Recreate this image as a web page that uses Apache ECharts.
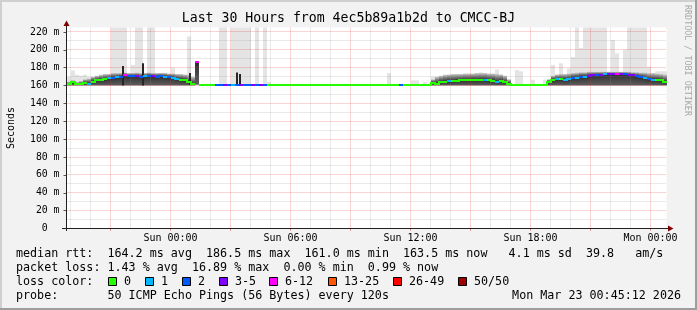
<!DOCTYPE html>
<html><head><meta charset="utf-8">
<script src="https://cdn.jsdelivr.net/npm/echarts@6/dist/echarts.min.js"></script>
<style>html,body{margin:0;padding:0;background:#f2f2f2;overflow:hidden}#c{width:697px;height:310px}</style>
</head><body><div id="c"></div>
<script>
// ---- time base: hours relative to Sun 00:00 ----
const startHour = -5.2;
const endHour = 24.8;
const stepHours = 0.2;

// ---- median RTT per step (ms) ----
const median = [
162,163.5,161.5,161.5,163,162,164.5,166,166.5,167,
168,169,169.5,170,171.5,170.5,171,170.5,170,170.5,
171,170.5,170,170.5,170,169.5,169,167.5,166.5,166,
164,161.5,186.5,161,161,161,161,161,161,161,
161,161,161,161,161,161,161,161,161,161,
161,161,161,161,161,161,161,161,161,161,
161,161,161,161,161,161,161,161,161,161,
161,161,161,161,161,161,161,161,161,161,
161,161,161,161,161,161,161,161,161,161,
161,163,162,164,164.5,165,165,165.5,166,166,
166,166.5,166,166.5,166.5,166,165.5,164,165,163.5,
162,161,161,161,161,161,161,161,161,161,
164,166.5,167,167,166.5,167,169,169,170,170,
171,171.5,172,172,172.5,172.5,172.5,172.5,172.5,172.5,
172,171.5,170.5,169.5,168.5,167,166.5,166.5,166,164
];
// ---- loss class per step (index into lossLabels) ----
const loss = [
0,0,0,0,0,1,0,0,0,0,
1,2,1,2,4,2,2,3,2,1,
2,3,2,2,1,2,1,1,0,0,
0,0,4,0,0,0,0,2,2,3,
2,1,2,3,2,2,3,2,3,2,
0,0,0,0,0,0,0,0,0,0,
0,0,0,0,0,0,0,0,0,0,
0,0,0,0,0,0,0,0,0,0,
0,0,0,2,0,0,0,0,0,0,
0,0,0,0,0,1,0,0,0,0,
0,0,0,0,1,0,0,1,0,0,
0,0,0,0,0,0,0,0,0,0,
0,0,1,0,1,1,2,1,2,1,
3,3,2,3,1,3,3,4,3,2,
3,3,2,2,1,2,1,0,0,0
];
// ---- dense smoke low / high (ms) ----
const smokeLo = [
160,160,160,160,160,160,160,160,160,160,
160,160,160,160,160,160,160,160,160,160,
160,160,160,160,160,160,160,160,160,160,
160,160,161,null,null,null,null,null,null,null,
null,null,null,null,null,null,null,null,null,null,
null,null,null,null,null,null,null,null,null,null,
null,null,null,null,null,null,null,null,null,null,
null,null,null,null,null,null,null,null,null,null,
null,null,null,null,null,null,null,null,null,null,
null,160,160,160,160,160,160,160,160,160,
160,160,160,160,160,160,160,160,160,160,
160,null,null,null,null,null,null,null,null,null,
160,160,160,160,160,160,160,160,160,160,
160,160,160,160,160,160,160,160,160,160,
160,160,160,160,160,160,160,160,160,160
];
const smokeHi = [
164,166,164,165,167,168,170,171,172,173,
173,174,174,174,174.5,174,174,174.5,174,174,
174.5,174,174,174,174,173.5,173.5,173,173,172.5,
172,170,187,null,null,null,null,null,null,null,
null,null,null,null,null,null,null,null,null,null,
null,null,null,null,null,null,null,null,null,null,
null,null,null,null,null,null,null,null,null,null,
null,null,null,null,null,null,null,null,null,null,
null,null,null,null,null,null,null,null,null,null,
null,167,170,171,172,172.5,173,173,173,173.5,
173.5,173.5,174,174,174,173.5,173.5,173,172.5,171,
167,null,null,null,null,null,null,null,null,null,
167,171,172.5,173,173,173.5,174,174.5,175,175,
175.5,175.5,175.5,175.5,175.5,175.5,175.5,175.5,175.5,175.5,
175.5,175,175,174.5,174.5,174,174,173.5,173,172.5
];
// ---- outer (light) smoke maximum per step (ms) ----
const spikeMax = [
170,177,172,171,172,170,null,null,null,null,
null,230,230,230,230,null,183,230,230,null,
230,230,null,null,null,null,180,null,null,null,
215,null,null,null,null,null,null,null,230,230,
null,230,230,230,230,230,null,230,null,230,
164,null,null,null,null,null,null,null,null,null,
null,null,null,null,null,null,null,null,null,null,
null,null,null,null,null,null,null,null,null,null,
174,null,null,null,null,null,166,166,null,164,
null,170,null,null,null,null,null,null,null,null,
null,null,null,175,null,null,null,178,null,null,
null,null,177.5,176,null,null,166.5,null,null,166.5,
null,183,null,185,null,179,192,230,202,230,
230,230,230,230,230,null,211,196,null,200,
230,230,230,230,230,181,null,176,176,176
];
// ---- isolated dark outliers ----
const peakTime = [-2.4, -1.4, 0.99, 3.3, 3.47];
const peakLo = [160, 160, 161, 161, 161];
const peakHi = [182, 185, 174, 174.5, 173];

const lossLabels = ['0','1','2','3-5','6-12','13-25','26-49','50/50'];
const lossColors = ['#26ff00','#00b8ff','#0059ff','#7e00ff','#ff00ff','#ff5500','#ff0000','#a10000'];

const xTickValues = [0, 6, 12, 18, 24];
const xTickLabels = ['Sun 00:00','Sun 06:00','Sun 12:00','Sun 18:00','Mon 00:00'];
const yTickValues = [0,20,40,60,80,100,120,140,160,180,200,220];
const majorHours = [-3,0,3,6,9,12,15,18,21,24];
const minorHours = [-5,-4,-2,-1,1,2,4,5,7,8,10,11,13,14,16,17,19,20,22,23];
const minorMs = [10,30,50,70,90,110,130,150,170,190,210];

const FONT = '"DejaVu Sans Mono", "Liberation Mono", monospace';

const stepData = median.map((v, i) => [startHour + i * stepHours, v, i]);

function rect(x, y, w, h, fill) {
  return {type: 'rect', shape: {x: x, y: y, width: w, height: h}, style: {fill: fill}};
}
function colX(api, t) { return Math.round(api.coord([t, 0])[0]); }

function renderSpike(params, api) {
  const i = api.value(2);
  const s = spikeMax[i];
  if (s == null) return null;
  const t = api.value(0);
  const x0 = colX(api, t), x1 = colX(api, t + stepHours);
  const yTop = api.coord([t, s])[1];
  const yBot = api.coord([t, median[i]])[1];
  return rect(x0, yTop, x1 - x0, yBot - yTop, '#e4e4e4');
}
function renderSmoke(params, api) {
  const i = api.value(2);
  const lo = smokeLo[i], hi = smokeHi[i];
  if (lo == null || hi == null) return null;
  const t = api.value(0);
  const x0 = colX(api, t), x1 = colX(api, t + stepHours);
  const yTop = api.coord([t, hi])[1];
  const yBot = api.coord([t, lo])[1];
  const yMed = api.coord([t, median[i]])[1];
  let off = (yMed - yTop) / (yBot - yTop);
  off = Math.max(0.05, Math.min(0.95, off));
  return {type: 'rect', shape: {x: x0, y: yTop, width: x1 - x0, height: yBot - yTop},
    style: {fill: new echarts.graphic.LinearGradient(0, 0, 0, 1, [
      {offset: 0, color: '#cfcfcf'}, {offset: off * 0.45, color: '#7a7a7a'},
      {offset: off, color: '#2e2e2e'}, {offset: Math.min(1, off + (1 - off) * 0.5), color: '#484848'},
      {offset: 1, color: '#5e5e5e'}])}};
}
function renderMedian(params, api) {
  const i = api.value(2);
  const t = api.value(0);
  const x0 = colX(api, t), x1 = colX(api, t + stepHours);
  const y = Math.round(api.coord([t, median[i]])[1]);
  const color = lossColors[loss[i]];
  const children = [rect(x0, y - 1, x1 - x0, 2, color)];
  if (i > 0 && loss[i - 1] === loss[i]) {
    const yp = Math.round(api.coord([t, median[i - 1]])[1]);
    if (yp !== y) children.push(rect(x0 - 1, Math.min(y, yp) - 1, 2, Math.abs(y - yp) + 2, color));
  }
  return {type: 'group', children: children};
}
function renderPeak(params, api) {
  const i = api.value(2);
  const x = colX(api, peakTime[i]);
  const yTop = api.coord([peakTime[i], peakHi[i]])[1];
  const yBot = api.coord([peakTime[i], peakLo[i]])[1];
  return rect(x - 1, yTop, 2, yBot - yTop, '#262626');
}
const gridData = [];
majorHours.forEach(h => gridData.push([h, 0, 0]));
minorHours.forEach(h => gridData.push([h, 0, 1]));
yTickValues.slice(1).forEach(v => gridData.push([startHour, v, 2]));
minorMs.forEach(v => gridData.push([startHour, v, 3]));
function renderGrid(params, api) {
  const kind = api.value(2);
  const cs = params.coordSys;
  const major = (kind === 0 || kind === 2);
  const style = {stroke: major ? 'rgba(225,55,55,0.42)' : 'rgba(140,140,140,0.36)', lineWidth: 1, lineDash: [1, 1]};
  if (kind < 2) {
    const x = Math.round(api.coord([api.value(0), 0])[0] - 0.5) + 0.5;
    return {type: 'line', shape: {x1: x, y1: cs.y, x2: x, y2: cs.y + cs.height}, style: style};
  }
  const y = Math.round(api.coord([startHour, api.value(1)])[1] - 0.5) + 0.5;
  return {type: 'line', shape: {x1: cs.x, y1: y, x2: cs.x + cs.width, y2: y}, style: style};
}

const chart = echarts.init(document.getElementById('c'), null, {renderer: 'canvas', width: 697, height: 310});

const legendBoxX = [108.5, 145.5, 182.5, 219.5, 269.5, 328.5, 393.5, 458.5];
const graphics = [
  {type: 'rect', shape: {x: 0, y: 0, width: 697, height: 2}, style: {fill: '#cfcfcf'}, z: 100},
  {type: 'rect', shape: {x: 0, y: 0, width: 2, height: 310}, style: {fill: '#cfcfcf'}, z: 100},
  {type: 'rect', shape: {x: 0, y: 308, width: 697, height: 2}, style: {fill: '#9e9e9e'}, z: 101},
  {type: 'rect', shape: {x: 695, y: 0, width: 2, height: 310}, style: {fill: '#9e9e9e'}, z: 101},
  {type: 'line', shape: {x1: 66.5, y1: 231, x2: 66.5, y2: 26}, style: {stroke: '#212121', lineWidth: 1}, z: 100},
  {type: 'line', shape: {x1: 62, y1: 228.5, x2: 668, y2: 228.5}, style: {stroke: '#212121', lineWidth: 1}, z: 100},
  {type: 'polygon', shape: {points: [[63.5, 26], [69.5, 26], [66.5, 20.5]]}, style: {fill: '#800000'}, z: 100},
  {type: 'polygon', shape: {points: [[668, 225.5], [668, 231.5], [673.5, 228.5]]}, style: {fill: '#800000'}, z: 100},
  {type: 'text', x: 348.5, y: 19, z: 100, style: {text: 'Last 30 Hours from 4ec5b89a1b2d to CMCC-BJ', font: '13.2px ' + FONT, fill: '#000', align: 'center', verticalAlign: 'middle'}},
  {type: 'text', x: 11, y: 128, rotation: Math.PI / 2, z: 100, style: {text: 'Seconds', font: '10px ' + FONT, fill: '#000', align: 'center', verticalAlign: 'middle'}},
  {type: 'text', x: 687.5, y: 5, rotation: -Math.PI / 2, z: 100, style: {text: 'RRDTOOL / TOBI OETIKER', font: '8.4px ' + FONT, fill: '#a8a8a8', align: 'left', verticalAlign: 'middle'}},
  {type: 'text', x: 16, y: 254, z: 100, style: {text: 'median rtt:  164.2 ms avg  186.5 ms max  161.0 ms min  163.5 ms now   4.1 ms sd  39.8   am/s', font: '11.7px ' + FONT, fill: '#000', align: 'left', verticalAlign: 'middle'}},
  {type: 'text', x: 16, y: 268, z: 100, style: {text: 'packet loss: 1.43 % avg  16.89 % max  0.00 % min  0.99 % now', font: '11.7px ' + FONT, fill: '#000', align: 'left', verticalAlign: 'middle'}},
  {type: 'text', x: 16, y: 282, z: 100, style: {text: 'loss color:', font: '11.7px ' + FONT, fill: '#000', align: 'left', verticalAlign: 'middle'}},
  {type: 'text', x: 16, y: 296, z: 100, style: {text: 'probe:       50 ICMP Echo Pings (56 Bytes) every 120s', font: '11.7px ' + FONT, fill: '#000', align: 'left', verticalAlign: 'middle'}},
  {type: 'text', x: 681, y: 296, z: 100, style: {text: 'Mon Mar 23 00:45:12 2026', font: '11.7px ' + FONT, fill: '#000', align: 'right', verticalAlign: 'middle'}}
];
lossLabels.forEach((lab, k) => {
  graphics.push({type: 'rect', shape: {x: legendBoxX[k], y: 277.5, width: 8, height: 8}, style: {fill: lossColors[k], stroke: '#000', lineWidth: 1}, z: 100});
  graphics.push({type: 'text', x: legendBoxX[k] + 15.5, y: 282, z: 100, style: {text: lab, font: '11.7px ' + FONT, fill: '#000', align: 'left', verticalAlign: 'middle'}});
});

chart.setOption({
  animation: false,
  backgroundColor: '#f2f2f2',
  grid: {left: 66.5, top: 27.5, width: 600, height: 201, backgroundColor: '#ffffff', show: true, borderWidth: 0},
  xAxis: {
    type: 'value', min: startHour, max: endHour,
    axisLine: {show: false, onZero: false}, splitLine: {show: false},
    axisTick: {show: true, customValues: majorHours, length: 2, lineStyle: {color: '#e07070'}},
    axisLabel: {customValues: xTickValues, margin: 5, fontFamily: FONT, fontSize: 10, color: '#000',
      formatter: v => { const k = xTickValues.findIndex(x => Math.abs(x - v) < 1e-6); return k >= 0 ? xTickLabels[k] : ''; }}
  },
  yAxis: {
    type: 'value', min: 0, max: 225,
    axisLine: {show: false, onZero: false}, splitLine: {show: false},
    axisTick: {show: true, customValues: yTickValues, length: 3, lineStyle: {color: '#555'}},
    axisLabel: {customValues: yTickValues, margin: 7, fontFamily: FONT, fontSize: 9.8, color: '#000',
      formatter: v => v === 0 ? '0  ' : v + ' m'}
  },
  graphic: graphics,
  series: [
    {type: 'custom', name: 'outer smoke', z: 2, silent: true, clip: true, data: stepData, encode: {x: 0, y: 1}, renderItem: renderSpike},
    {type: 'custom', name: 'smoke', z: 3, silent: true, clip: true, data: stepData, encode: {x: 0, y: 1}, renderItem: renderSmoke},
    {type: 'custom', name: 'grid', z: 4, silent: true, clip: true, data: gridData, encode: {x: 0, y: 1}, renderItem: renderGrid},
    {type: 'custom', name: 'outliers', z: 5, silent: true, clip: true, data: peakTime.map((t, i) => [t, peakHi[i], i]), encode: {x: 0, y: 1}, renderItem: renderPeak},
    {type: 'custom', name: 'median', z: 6, silent: true, clip: true, data: stepData, encode: {x: 0, y: 1}, renderItem: renderMedian}
  ]
});
</script></body></html>
